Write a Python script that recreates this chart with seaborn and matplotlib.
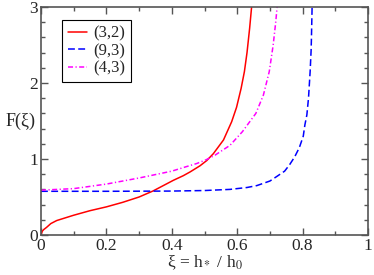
import pandas as pd
import seaborn as sns
import matplotlib.pyplot as plt
from matplotlib.ticker import MultipleLocator, FormatStrFormatter

# curve (3,2)
x_32 = [0, 0.004, 0.008, 0.017, 0.03, 0.048, 0.10, 0.15, 0.20, 0.25, 0.30,
        0.343, 0.405, 0.435, 0.456, 0.486, 0.507, 0.527, 0.558, 0.583, 0.598,
        0.612, 0.622, 0.630, 0.638, 0.644]
y_32 = [0, 0.05, 0.07, 0.10, 0.15, 0.19, 0.26, 0.32, 0.37, 0.43, 0.50,
        0.58, 0.72, 0.78, 0.83, 0.91, 0.98, 1.07, 1.25, 1.49, 1.68,
        1.93, 2.15, 2.40, 2.72, 3.0]

# curve (9,3)
x_93 = [0, 0.2, 0.4, 0.5, 0.578, 0.63, 0.66, 0.70, 0.721, 0.745, 0.761, 0.776,
        0.790, 0.802, 0.807, 0.813, 0.818, 0.823, 0.826, 0.827, 0.829]
y_93 = [0.575, 0.575, 0.578, 0.585, 0.60, 0.625, 0.65, 0.71, 0.77, 0.84, 0.93, 1.03,
        1.15, 1.30, 1.45, 1.58, 1.80, 2.15, 2.43, 2.59, 3.0]

# curve (4,3)
x_43 = [0, 0.1, 0.2, 0.3, 0.4, 0.445, 0.476, 0.505, 0.532, 0.578, 0.616,
        0.657, 0.680, 0.698, 0.710, 0.718, 0.722]
y_43 = [0.59, 0.61, 0.67, 0.75, 0.84, 0.90, 0.94, 0.99, 1.05, 1.18, 1.36,
        1.60, 1.84, 2.15, 2.50, 2.81, 3.0]

sns.set_style("ticks")
plt.rcParams['font.family'] = ['Liberation Serif', 'DejaVu Serif']
plt.rcParams['mathtext.fontset'] = 'stix'

fig = plt.figure(figsize=(3.74, 2.75), dpi=100)
ax = fig.add_axes([0.1096, 0.1455, 0.8744, 0.829])

sns.lineplot(x=x_32, y=y_32, sort=False, estimator=None, color='#ff0000',
             linewidth=1.1, label='(3,2)', ax=ax)
sns.lineplot(x=x_93, y=y_93, sort=False, estimator=None, color='#0000ff',
             linewidth=1.1, label='(9,3)', ax=ax)
sns.lineplot(x=x_43, y=y_43, sort=False, estimator=None, color='#ff00ff',
             linewidth=1.1, label='(4,3)', ax=ax)
ax.lines[1].set_dashes([4.5, 2.2])
ax.lines[2].set_dashes([3.3, 1.6, 0.8, 1.6])

ax.set_xlim(0, 1)
ax.set_ylim(0, 3)
ax.xaxis.set_major_locator(MultipleLocator(0.2))
ax.xaxis.set_minor_locator(MultipleLocator(0.1))
ax.yaxis.set_major_locator(MultipleLocator(1))
ax.yaxis.set_minor_locator(MultipleLocator(0.2))
ax.xaxis.set_major_formatter(FormatStrFormatter('%g'))
ax.yaxis.set_major_formatter(FormatStrFormatter('%g'))

ax.tick_params(which='both', direction='in', top=True, right=True,
               color='#555555', labelsize=12.5, pad=2)
ax.tick_params(which='major', length=5, width=1)
ax.tick_params(which='minor', length=3, width=1)
for sp in ax.spines.values():
    sp.set_color('#555555')
    sp.set_linewidth(1.2)

ax.set_xlabel(r'ξ = h$_*$ / h$_0$', fontsize=12.5, labelpad=0)
ax.set_ylabel('F(ξ)', fontsize=13, rotation=0, ha='center', va='center')
ax.yaxis.set_label_coords(-0.062, 0.5)

leg = ax.legend(loc='upper left', bbox_to_anchor=(0.064, 0.943), fancybox=False,
                edgecolor='black', framealpha=1, fontsize=12, handlelength=1.15,
                handletextpad=0.4, borderpad=0.35, labelspacing=0.08,
                borderaxespad=0)
leg.get_frame().set_linewidth(0.8)

plt.savefig('out.png', dpi=100)
